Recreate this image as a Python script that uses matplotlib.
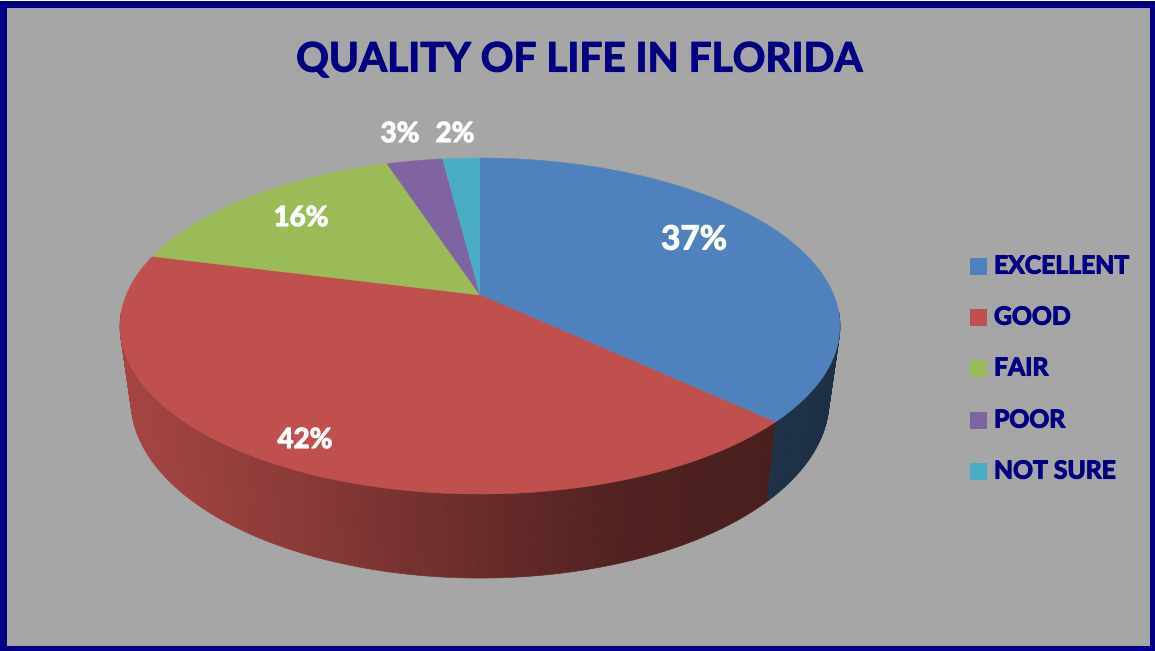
import numpy as np
import matplotlib
matplotlib.use("Agg")
import matplotlib.pyplot as plt
import matplotlib.patheffects as pe
from matplotlib.patches import Rectangle

title = "QUALITY OF LIFE IN FLORIDA"
labels = ["EXCELLENT", "GOOD", "FAIR", "POOR", "NOT SURE"]
values = [37, 42, 16, 3, 2]
colors = ["#4F81BD", "#C0504D", "#9BBB59", "#8064A2", "#4BACC6"]
navy = "#000080"
back = "#A6A6A6"

# pixel spots of the percent labels
label_xy = [(694, 240), (305, 440), (301, 218), (400, 134), (455, 134)]

plt.rcParams["font.family"] = ["Lato", "DejaVu Sans"]
plt.rcParams["font.weight"] = "bold"

fig = plt.figure(figsize=(11.55, 6.51), dpi=100, facecolor="white")
ax = fig.add_axes([0, 0, 1, 1])
ax.set_xlim(0, 1155)
ax.set_ylim(651, 0)
ax.axis("off")

ax.add_patch(Rectangle((0, 1), 1155, 650, fc=navy, ec="none", zorder=0))
ax.add_patch(Rectangle((7, 8), 1143, 638, fc=back, ec="none", zorder=0))


# circle to screen, tilted with perspective so the apex sits above the ellipse centre
def rim(turn, a=353.8, b=162.3, c=0.0, k=0.1845):
    x = np.sin(turn)
    y = np.cos(turn)
    d = 1 + k * y
    return 480 + a * x / d, 295 - (b * y + c) / d


def low_rim(turn):
    return rim(turn, a=343, b=158.2, c=-72.6, k=0.1845)


def bold_text(x, y, s, **kw):
    t = ax.text(x, y, s, ha=kw.pop("ha", "center"), va="center", **kw)
    t.set_path_effects([pe.withStroke(linewidth=0.8, foreground=kw["color"])])
    return t


edges = np.cumsum([0] + values) / sum(values) * 2 * np.pi

# side wall, split in thin strips to get the shading
shade_x = [120, 200, 300, 400, 480, 620, 770, 840]
shade_f = [0.86, 0.80, 0.72, 0.62, 0.55, 0.42, 0.38, 0.36]
for i in range(len(values)):
    t0, t1 = edges[i], edges[i + 1]
    steps = np.linspace(t0, t1, max(int((t1 - t0) / 0.012), 2))
    for a0, a1 in zip(steps[:-1], steps[1:]):
        if np.cos((a0 + a1) / 2) > -0.1:
            continue
        xa, ya = rim(np.array([a0, a1]))
        xb, yb = low_rim(np.array([a1, a0]))
        f = np.interp((xa[0] + xa[1]) / 2, shade_x, shade_f)
        c = np.array(matplotlib.colors.to_rgb(colors[i])) * f
        ax.fill(np.r_[xa, xb], np.r_[ya, yb], color=c, lw=0.5, zorder=1)

# top face
for i in range(len(values)):
    turn = np.linspace(edges[i], edges[i + 1], 200)
    xs, ys = rim(turn)
    ax.fill(np.r_[480, xs], np.r_[295, ys], color=colors[i], lw=0.3, zorder=2)

sizes = [24, 20, 20, 20, 20]
for v, (x, y), s in zip(values, label_xy, sizes):
    bold_text(x, y, f"{v}%", color="white", fontsize=s, zorder=3)

bold_text(579, 60, title, color=navy, fontsize=29.2)

# legend
legend_y = [266.5, 317.5, 368.5, 420.5, 471.5]
for name, col, y in zip(labels, colors, legend_y):
    ax.add_patch(Rectangle((970, y - 8.5), 17, 17, fc=col, ec="none"))
    bold_text(994, y - 0.5, name, color=navy, fontsize=17.8, ha="left")

fig.savefig("out.png", dpi=100)
